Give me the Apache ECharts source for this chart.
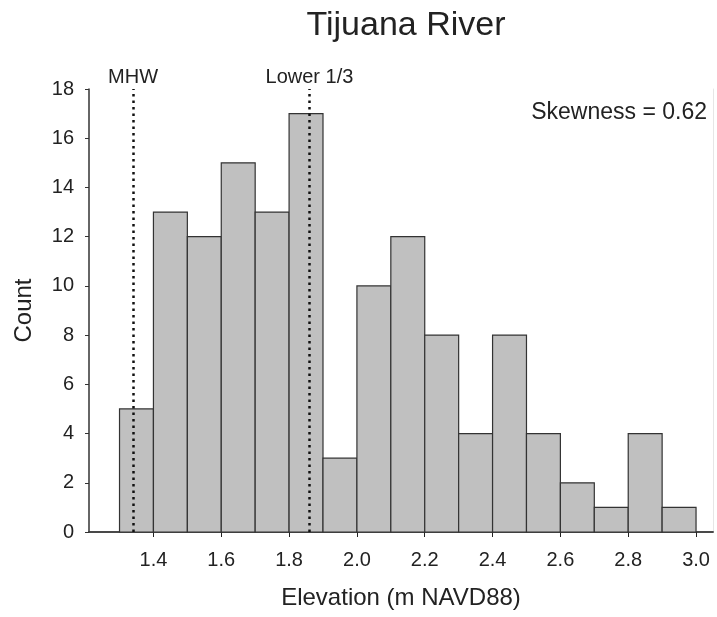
<!DOCTYPE html>
<html>
<head>
<meta charset="utf-8">
<script src="https://cdn.jsdelivr.net/npm/echarts@6/dist/echarts.min.js"></script>
<style>
  html, body { margin: 0; padding: 0; background: #fff; }
  #chart { width: 717px; height: 617px; }
</style>
</head>
<body>
<div id="chart"></div>
<script>
// histogram bins (lower edge, m NAVD88) and counts
var binStarts = [1.3, 1.4, 1.5, 1.6, 1.7, 1.8, 1.9, 2.0, 2.1, 2.2, 2.3, 2.4, 2.5, 2.6, 2.7, 2.8, 2.9];
var counts = [5, 13, 12, 15, 13, 17, 3, 10, 12, 8, 4, 8, 4, 2, 1, 4, 1];
var binWidth = 0.1;
var xTicks = [1.4, 1.6, 1.8, 2.0, 2.2, 2.4, 2.6, 2.8, 3.0];
var refLines = [{ name: 'MHW', value: 1.34 }, { name: 'Lower 1/3', value: 1.86 }];
var skewText = 'Skewness = 0.62';

var font = 'Liberation Sans, Arial, sans-serif';
var textColor = '#222';

var histData = binStarts.map(function (lo, i) {
  return [lo, lo + binWidth, counts[i]];
});

var chart = echarts.init(document.getElementById('chart'));

var option = {
  animation: false,
  backgroundColor: '#fff',
  title: {
    text: 'Tijuana River',
    left: 401,
    top: 4,
    textAlign: 'center',
    textStyle: { fontFamily: font, fontSize: 34, fontWeight: 'normal', color: textColor }
  },
  graphic: [{
    type: 'text',
    right: 10,
    top: 101,
    style: { text: skewText, font: '23px ' + font, fill: textColor }
  }],
  grid: { left: 89, right: 4, top: 89, bottom: 85 },
  xAxis: [{
    type: 'value',
    min: 1.21,
    max: 3.05,
    name: 'Elevation (m NAVD88)',
    nameLocation: 'middle',
    nameGap: 54,
    nameTextStyle: { fontFamily: font, fontSize: 24, color: textColor },
    splitLine: { show: false },
    axisLine: { show: true, onZero: false, lineStyle: { color: '#222', width: 1.5 } },
    axisTick: { show: true, inside: false, length: 5, customValues: xTicks, lineStyle: { color: '#222' } },
    axisLabel: {
      customValues: xTicks,
      margin: 18,
      fontFamily: font, fontSize: 20, color: textColor,
      formatter: function (v) { return v.toFixed(1); }
    }
  }, {
    type: 'value',
    position: 'top',
    min: 1.21,
    max: 3.05,
    splitLine: { show: false },
    axisLine: { show: true, lineStyle: { color: '#444', width: 1.5 } },
    axisTick: { show: false },
    axisLabel: { show: false }
  }],
  yAxis: [{
    type: 'value',
    min: 0,
    max: 18,
    interval: 2,
    name: 'Count',
    nameLocation: 'middle',
    nameGap: 53,
    nameTextStyle: { fontFamily: font, fontSize: 24, color: textColor },
    splitLine: { show: false },
    axisLine: { show: true, lineStyle: { color: '#333', width: 1.5 } },
    axisTick: { show: true, inside: false, length: 4, lineStyle: { color: '#333' } },
    axisLabel: { margin: 15, fontFamily: font, fontSize: 20, color: textColor }
  }, {
    type: 'value',
    position: 'right',
    min: 0,
    max: 18,
    splitLine: { show: false },
    axisLine: { show: true, lineStyle: { color: '#e6e6e6', width: 1 } },
    axisTick: { show: false },
    axisLabel: { show: false }
  }],
  series: [{
    type: 'custom',
    xAxisIndex: 0,
    yAxisIndex: 0,
    data: histData,
    encode: { x: [0, 1], y: 2 },
    renderItem: function (params, api) {
      var topLeft = api.coord([api.value(0), api.value(2)]);
      var bottomRight = api.coord([api.value(1), 0]);
      return {
        type: 'rect',
        shape: {
          x: topLeft[0],
          y: topLeft[1],
          width: bottomRight[0] - topLeft[0],
          height: bottomRight[1] - topLeft[1]
        },
        style: { fill: '#c0c0c0', stroke: '#333', lineWidth: 1.2 }
      };
    },
    markLine: {
      silent: true,
      symbol: ['none', 'none'],
      z: 10,
      lineStyle: { type: [2.5, 4], color: '#111', width: 2.5 },
      label: {
        show: true,
        position: 'end',
        distance: 2,
        fontFamily: font,
        fontSize: 20,
        color: textColor,
        formatter: '{b}'
      },
      data: refLines.map(function (r) { return { name: r.name, xAxis: r.value }; })
    }
  }]
};

chart.setOption(option);
</script>
</body>
</html>
